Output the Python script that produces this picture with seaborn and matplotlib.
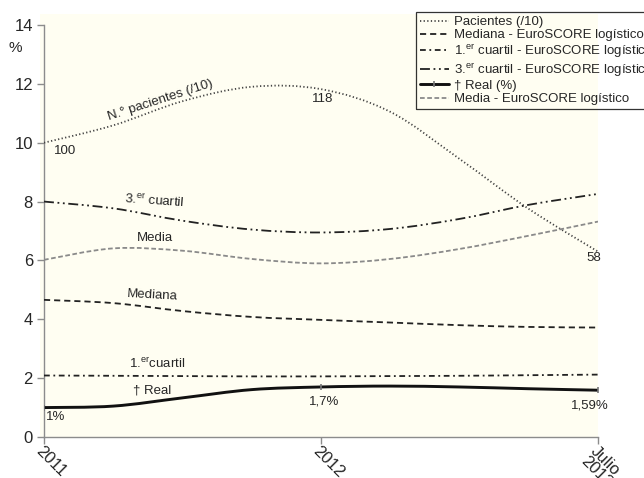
import numpy as np
import pandas as pd
import matplotlib
matplotlib.use("Agg")
import matplotlib.pyplot as plt
import seaborn as sns
from matplotlib.path import Path
from matplotlib.patches import PathPatch, Rectangle
from matplotlib.lines import Line2D

# --------------------------
# Data (at quarter steps between the periods)
# --------------------------
periods = ["2011", "2012", "Julio\n2013"]
period_pos = [0, 1, 2]
read_pos = [0, 0.25, 0.5, 0.75, 1.0, 1.25, 1.5, 1.75, 2.0]

pacientes = [10.0, 10.59, 11.41, 11.90, 11.82, 11.05, 9.45, 7.75, 6.3]   # patients / 10
tercer_cuartil = [8.0, 7.77, 7.35, 7.05, 6.95, 7.07, 7.41, 7.89, 8.26]
media = [6.02, 6.41, 6.33, 6.05, 5.90, 6.05, 6.39, 6.84, 7.32]
mediana = [4.66, 4.55, 4.28, 4.08, 3.98, 3.89, 3.80, 3.74, 3.72]
primer_cuartil = [2.09, 2.08, 2.07, 2.06, 2.06, 2.07, 2.08, 2.10, 2.12]
real = [1.0, 1.05, 1.33, 1.61, 1.70, 1.73, 1.70, 1.64, 1.59]

pac_labels = ["100", "118", "58"]
real_labels = ["1%", "1,7%", "1,59%"]

# --------------------------
# Style
# --------------------------
sns.set_style("white")
plt.rcParams["font.family"] = ["Liberation Sans", "DejaVu Sans"]
plt.rcParams["mathtext.fontset"] = "custom"
plt.rcParams["mathtext.rm"] = "Liberation Sans"
plt.rcParams["mathtext.it"] = "Liberation Sans:italic"
plt.rcParams["mathtext.default"] = "regular"

CREAM = "#fffef2"
AXIS = "#8c8c8c"

fig = plt.figure(figsize=(6.44, 4.78), dpi=100)
fig.patch.set_facecolor("white")
# plot area background (slightly larger than the axes, like the original)
fig.patches.append(Rectangle((40 / 644, 1 - 437 / 478), 558 / 644, 423 / 478,
                             transform=fig.transFigure, facecolor=CREAM,
                             edgecolor="none", zorder=-5))
ax = fig.add_axes([44 / 644, 1 - 437 / 478, 554 / 644, 412 / 478])
ax.set_facecolor("none")
ax.set_zorder(1)


def smooth_path(xs, ys):
    # smoothed line: cubic Bezier through every reading
    pts = np.column_stack([xs, ys]).astype(float)
    n = len(pts)
    verts = [pts[0]]
    codes = [Path.MOVETO]
    for i in range(n - 1):
        p_prev = pts[max(i - 1, 0)]
        p_next2 = pts[min(i + 2, n - 1)]
        c1 = pts[i] + (pts[i + 1] - p_prev) / 6
        c2 = pts[i + 1] - (p_next2 - pts[i]) / 6
        verts += [c1, c2, pts[i + 1]]
        codes += [Path.CURVE4] * 3
    return Path(verts, codes)


series = [
    ("Pacientes (/10)", pacientes, dict(color="#444444", lw=1.3, ls=(0, (0.7, 1.3)))),
    ("Mediana - EuroSCORE logístico", mediana, dict(color="#222222", lw=1.3, ls=(0, (3.4, 2.2)))),
    ("1.$^{er}$ cuartil - EuroSCORE logístico", primer_cuartil,
     dict(color="#222222", lw=1.3, ls=(0, (3.2, 2.0, 1.0, 2.0)))),
    ("3.$^{er}$ cuartil - EuroSCORE logístico", tercer_cuartil,
     dict(color="#222222", lw=1.3, ls=(0, (5.5, 2.0, 1.0, 2.0, 1.0, 2.0)))),
    ("† Real (%)", real, dict(color="#111111", lw=2.1, ls="-")),
    ("Media - EuroSCORE logístico", media, dict(color="#8a8a8a", lw=1.3, ls=(0, (2.6, 1.4)))),
]

handles = []
for name, vals, st in series:
    patch = PathPatch(smooth_path(read_pos, vals), facecolor="none", edgecolor=st["color"],
                      linewidth=st["lw"], linestyle=st["ls"], zorder=3)
    ax.add_patch(patch)
    if name.startswith("†"):
        h = Line2D([], [], color=st["color"], lw=st["lw"], ls=st["ls"],
                   marker="|", markersize=5, markeredgewidth=1.2, markeredgecolor="#777777")
    else:
        h = Line2D([], [], color=st["color"], lw=st["lw"], ls=st["ls"])
    handles.append((h, name))

# small markers on the real mortality values at each period
df_real = pd.DataFrame({"x": read_pos, "y": real})
df_real = df_real[df_real["x"].isin(period_pos)]
sns.scatterplot(data=df_real, x="x", y="y", marker="|", s=25, color="#777777",
                linewidth=1.2, ax=ax, zorder=4, legend=False)

# --------------------------
# Axes
# --------------------------
ax.set_xlim(0, 2)
ax.set_ylim(0, 14)
ax.set_yticks(range(0, 15, 2))
ax.set_xticks(period_pos)
ax.set_xticklabels(periods, rotation=-45, ha="left", va="top",
                   rotation_mode="anchor", fontsize=12, linespacing=0.85)
ax.tick_params(axis="y", labelsize=12, length=5, width=1, color=AXIS, pad=3, left=True)
ax.tick_params(axis="x", length=5, width=1, color=AXIS, pad=0, bottom=True)
ax.set_xlabel("")
ax.set_ylabel("")
for side in ["top", "right"]:
    ax.spines[side].set_visible(False)
for side in ["left", "bottom"]:
    ax.spines[side].set_color(AXIS)
    ax.spines[side].set_linewidth(1)
fig.text(15 / 644, 1 - 48 / 478, "%", fontsize=11, ha="center", va="center")

# --------------------------
# Annotations
# --------------------------
fs = 9.5
ax.text(0.42, 11.45, "N.° pacientes (/10)", fontsize=fs, rotation=18, ha="center", va="center")
ax.text(0.40, 8.03, "3.$^{er}$ cuartil", fontsize=fs, rotation=-4, ha="center", va="center")
ax.text(0.40, 6.75, "Media", fontsize=fs, ha="center", va="center")
ax.text(0.39, 4.82, "Mediana", fontsize=fs, rotation=-3, ha="center", va="center")
ax.text(0.41, 2.50, "1.$^{er}$cuartil", fontsize=fs, ha="center", va="center")
ax.text(0.39, 1.57, "† Real", fontsize=fs, ha="center", va="center")

pac_pos = [(0.075, 9.72), (1.005, 11.5), (1.985, 6.08)]
for (px, py), lab in zip(pac_pos, pac_labels):
    ax.text(px, py, lab, fontsize=fs, ha="center", va="center")
real_pos = [(0.043, 0.68), (1.01, 1.2), (1.97, 1.06)]
for (px, py), lab in zip(real_pos, real_labels):
    ax.text(px, py, lab, fontsize=fs, ha="center", va="center")

# --------------------------
# Legend (runs off the right edge like the original)
# --------------------------
leg = fig.legend([h for h, _ in handles], [n for _, n in handles],
                 loc="upper left", bbox_to_anchor=(416 / 644, 1 - 12 / 478),
                 bbox_transform=fig.transFigure, fontsize=9.5, frameon=True,
                 fancybox=False, handlelength=2.2, handletextpad=0.4,
                 labelspacing=0.08, borderpad=0.3, borderaxespad=0)
leg.get_frame().set_edgecolor("black")
leg.get_frame().set_linewidth(0.9)
leg.get_frame().set_facecolor("none")
leg.set_zorder(5)

plt.savefig("out.png", dpi=100)
plt.close()
